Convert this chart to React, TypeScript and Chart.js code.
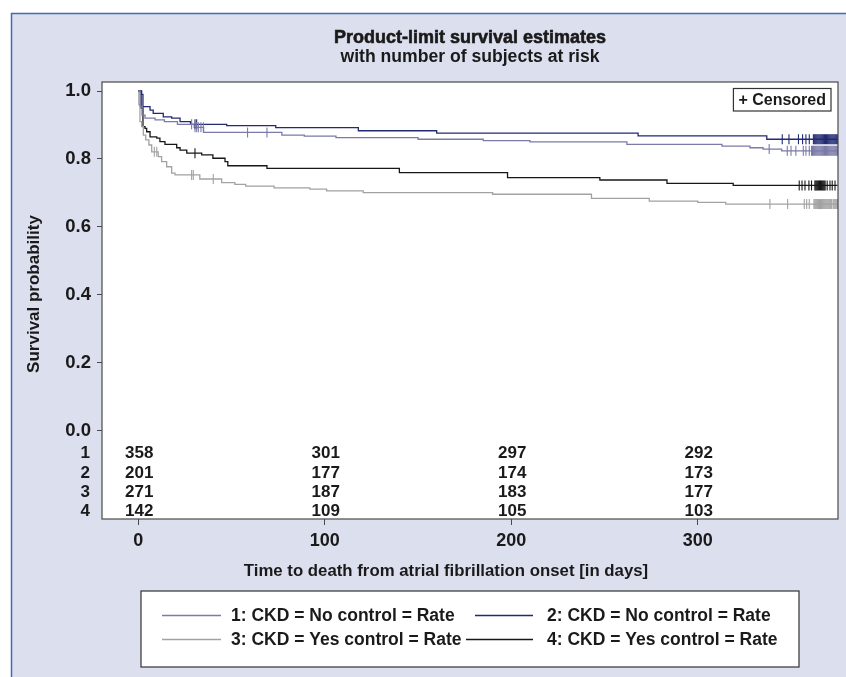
import React, { useEffect, useRef } from "react";
import { Chart, registerables } from "chart.js";

Chart.register(...registerables);

// ---------- data ----------
const TITLE = "Product-limit survival estimates";
const SUBTITLE = "with number of subjects at risk";
const X_TITLE = "Time to death from atrial fibrillation onset [in days]";
const Y_TITLE = "Survival probability";
const CENSOR_LABEL = "+ Censored";

const GROUP_IDS = ["1", "2", "3", "4"];
const GROUP_LABELS = [
  "1: CKD = No control = Rate",
  "2: CKD = No control = Rate",
  "3: CKD = Yes control = Rate",
  "4: CKD = Yes control = Rate",
];
const GROUP_COLORS = ["#7b7aa8", "#222a72", "#a2a2a2", "#171717"];

const G1_TIMES = [0, 1, 2, 3.6, 9, 14, 21, 30, 35, 77, 89, 106, 150, 185, 210, 262, 313, 328, 335, 345, 375];
const G1_SURV = [1, 0.955, 0.929, 0.92, 0.915, 0.91, 0.902, 0.893, 0.878, 0.87, 0.867, 0.863, 0.858, 0.854, 0.85, 0.843, 0.838, 0.833, 0.829, 0.824, 0.824];
const G1_CENSORED = [28.6, 30.4, 31.3, 32.2, 33.6, 34.9, 58.6, 69, 338.3, 348, 350, 352.6, 356.6, 358, 359.8, 361, 361.5, 362, 362.5, 363, 363.5, 364, 364.5, 365, 365.5, 366, 366.5, 367, 367.5, 368, 368.5, 369, 369.5, 370, 370.5, 371, 371.5, 372, 372.5, 373, 373.5, 374, 374.5, 375];

const G2_TIMES = [0, 1.8, 2.5, 6.3, 8, 13.4, 17.9, 22.4, 28, 47.4, 73.7, 118, 160, 268, 337, 375];
const G2_SURV = [1, 0.99, 0.954, 0.944, 0.934, 0.924, 0.92, 0.91, 0.902, 0.898, 0.892, 0.883, 0.876, 0.868, 0.858, 0.858];
const G2_CENSORED = [30.4, 31.3, 345.3, 348.9, 354, 356.2, 358, 359.8, 362, 362.5, 363, 363.5, 364, 364.5, 365, 365.5, 366, 366.5, 367, 367.5, 368, 368.5, 369, 369.5, 370, 370.5, 371, 371.5, 372, 372.5, 373, 373.5, 374, 374.5, 375];

const G3_TIMES = [0, 0.3, 0.9, 1.8, 2.7, 4, 5.7, 7.2, 10.7, 12.5, 15.2, 17.9, 19.7, 33, 44.7, 51.8, 57.6, 72.8, 92, 101, 120.6, 190, 243, 274, 300, 315, 375];
const G3_SURV = [1, 0.96, 0.91, 0.895, 0.87, 0.856, 0.841, 0.821, 0.807, 0.792, 0.777, 0.758, 0.753, 0.741, 0.73, 0.725, 0.72, 0.715, 0.711, 0.706, 0.701, 0.696, 0.684, 0.676, 0.672, 0.667, 0.667];
const G3_CENSORED = [8.6, 9.9, 28.6, 29.5, 40.2, 338.7, 348.2, 357.1, 358.4, 359.8, 362.3, 362.8, 363.3, 363.8, 364.3, 364.8, 365.3, 365.8, 366.3, 366.8, 367.3, 367.8, 368.3, 368.8, 369.3, 369.8, 370.3, 370.8, 371.3, 371.8, 372.6, 373.1, 373.6, 374.1, 374.6, 375];

const G4_TIMES = [0, 1.5, 2.5, 3.6, 4.5, 6.3, 9.9, 11.6, 14.3, 20.6, 22.4, 26, 34, 40, 46.5, 48, 69, 140, 198, 247.5, 283.5, 319, 375];
const G4_SURV = [1, 0.95, 0.895, 0.89, 0.88, 0.865, 0.861, 0.851, 0.843, 0.833, 0.826, 0.817, 0.812, 0.802, 0.792, 0.78, 0.772, 0.76, 0.745, 0.738, 0.728, 0.722, 0.722];
const G4_CENSORED = [30.4, 354.4, 355.9, 357.5, 359.6, 361, 362.8, 363.3, 363.8, 364.3, 364.8, 365.3, 365.8, 366.3, 366.8, 367.3, 367.8, 368.3, 369.4, 370.9, 372.1, 373.6];

const AT_RISK_TIMES = [0, 100, 200, 300];
const AT_RISK_G1 = [358, 301, 297, 292];
const AT_RISK_G2 = [201, 177, 174, 173];
const AT_RISK_G3 = [271, 187, 183, 177];
const AT_RISK_G4 = [142, 109, 105, 103];

const Y_TICKS = [0, 0.2, 0.4, 0.6, 0.8, 1.0];
const X_TICKS = [0, 100, 200, 300];

// ---------- style ----------
const WIDE_FONT = '"Liberation Sans", Arial, "DejaVu Sans", sans-serif';
const NARROW_FONT = '"Liberation Sans Narrow", "Arial Narrow", "Liberation Sans", sans-serif';
const BG = "#dcdfee";
const FRAME_BLUE = "#3f6cb4";
const INK = "#1a1a1a";
const AXIS = "#4a4a4a";
const W = 846;
const H = 677;

function fontInstalled(name: string): boolean {
  try {
    const c = document.createElement("canvas").getContext("2d");
    if (!c) return false;
    const probe = "abcdefghijklmnopqrstuvwxyz ABCDEFGHIJKLMNOPQRSTUVWXYZ 0123456789";
    c.font = "40px monospace";
    const a = c.measureText(probe).width;
    c.font = `40px "${name}", monospace`;
    const b = c.measureText(probe).width;
    return Math.abs(a - b) > 0.5;
  } catch (e) {
    return false;
  }
}

type TextStyle = { font: string; ls: number };

function makeStyles(narrow: boolean) {
  if (narrow) {
    return {
      tickFamily: NARROW_FONT,
      tickSize: 19,
      tickLS: 1.2,
      subtitle: { font: `bold 19px ${NARROW_FONT}`, ls: 1.1 },
      xTitle: { font: `bold 19px ${NARROW_FONT}`, ls: 0.5 },
      yTitle: { font: `bold 19px ${NARROW_FONT}`, ls: 0.5 },
      censor: { font: `bold 17px ${NARROW_FONT}`, ls: 1 },
      atRisk: { font: `bold 18.5px ${NARROW_FONT}`, ls: 1 },
      legend: { font: `bold 19px ${NARROW_FONT}`, ls: 1 },
    };
  }
  return {
    tickFamily: WIDE_FONT,
    tickSize: 18,
    tickLS: 0,
    subtitle: { font: `bold 17.6px ${WIDE_FONT}`, ls: 0 },
    xTitle: { font: `bold 16.8px ${WIDE_FONT}`, ls: 0 },
    yTitle: { font: `bold 17px ${WIDE_FONT}`, ls: 0 },
    censor: { font: `bold 16px ${WIDE_FONT}`, ls: 0 },
    atRisk: { font: `bold 17px ${WIDE_FONT}`, ls: 0 },
    legend: { font: `bold 17.5px ${WIDE_FONT}`, ls: 0 },
  };
}

const GROUPS = [
  { t: G1_TIMES, s: G1_SURV, c: G1_CENSORED, r: AT_RISK_G1 },
  { t: G2_TIMES, s: G2_SURV, c: G2_CENSORED, r: AT_RISK_G2 },
  { t: G3_TIMES, s: G3_SURV, c: G3_CENSORED, r: AT_RISK_G3 },
  { t: G4_TIMES, s: G4_SURV, c: G4_CENSORED, r: AT_RISK_G4 },
];

function survAt(times: number[], surv: number[], t: number): number {
  let v = surv[0];
  for (let i = 0; i < times.length; i++) if (times[i] <= t) v = surv[i];
  return v;
}

function setText(ctx: any, st: TextStyle) {
  ctx.font = st.font;
  ctx.letterSpacing = `${st.ls}px`;
}

function makeDecor(S: ReturnType<typeof makeStyles>) {
  return {
    id: "decor",
    beforeDraw(chart: any) {
      const { ctx, chartArea: a } = chart;
      ctx.save();
      ctx.fillStyle = "#ffffff";
      ctx.fillRect(0, 0, W, H);
      ctx.fillStyle = BG;
      ctx.fillRect(11, 13, W - 11, H - 13);
      ctx.strokeStyle = FRAME_BLUE;
      ctx.lineWidth = 1.5;
      ctx.beginPath();
      ctx.moveTo(11.5, H);
      ctx.lineTo(11.5, 13.5);
      ctx.lineTo(W, 13.5);
      ctx.stroke();
      ctx.fillStyle = "#ffffff";
      ctx.fillRect(a.left, a.top, a.right - a.left, a.bottom - a.top);
      ctx.restore();
      // letter spacing used by the axis tick labels
      ctx.letterSpacing = `${S.tickLS}px`;
    },
    afterDraw(chart: any) {
      const { ctx, chartArea: a, scales } = chart;
      const xs = scales.x;
      const ys = scales.y;
      const cx = (a.left + a.right) / 2;
      ctx.save();
      ctx.strokeStyle = AXIS;
      ctx.lineWidth = 1.2;
      ctx.strokeRect(a.left, a.top, a.right - a.left, a.bottom - a.top);

      ctx.fillStyle = INK;
      ctx.textAlign = "center";
      ctx.textBaseline = "middle";
      // titles
      ctx.font = `bold 18px ${WIDE_FONT}`;
      ctx.letterSpacing = "0px";
      ctx.strokeStyle = INK;
      ctx.lineWidth = 0.6;
      ctx.fillText(TITLE, cx, 38);
      ctx.strokeText(TITLE, cx, 38);
      setText(ctx, S.subtitle);
      ctx.fillText(SUBTITLE, cx, 57.5);

      // x title
      setText(ctx, S.xTitle);
      ctx.fillText(X_TITLE, cx - 24, 571);

      // y title
      ctx.save();
      ctx.translate(34, 294);
      ctx.rotate(-Math.PI / 2);
      setText(ctx, S.yTitle);
      ctx.fillText(Y_TITLE, 0, 0);
      ctx.restore();

      // censored box
      setText(ctx, S.censor);
      const cw = ctx.measureText(CENSOR_LABEL).width + 10;
      const bx = a.right - 7 - cw;
      const by = a.top + 6.5;
      ctx.fillStyle = "#ffffff";
      ctx.fillRect(bx, by, cw, 22.5);
      ctx.strokeStyle = "#333";
      ctx.lineWidth = 1.2;
      ctx.strokeRect(bx, by, cw, 22.5);
      ctx.fillStyle = INK;
      ctx.fillText(CENSOR_LABEL, bx + cw / 2, by + 12);

      // at-risk table
      const y0 = ys.getPixelForValue(0);
      setText(ctx, S.atRisk);
      GROUPS.forEach((g, i) => {
        const ry = y0 + 23 + i * 19.3;
        ctx.textAlign = "right";
        ctx.fillText(GROUP_IDS[i], a.left - 12, ry);
        ctx.textAlign = "center";
        AT_RISK_TIMES.forEach((t, j) => {
          ctx.fillText(String(g.r[j]), xs.getPixelForValue(t) + 1, ry);
        });
      });

      // legend box
      const lx = 141;
      const lw = 2 * (cx - lx);
      const ly = 591;
      const lh = 76;
      ctx.fillStyle = "#ffffff";
      ctx.fillRect(lx, ly, lw, lh);
      ctx.strokeStyle = "#333";
      ctx.lineWidth = 1.2;
      ctx.strokeRect(lx, ly, lw, lh);
      setText(ctx, S.legend);
      ctx.textAlign = "left";
      const rowsY = [ly + 24.5, ly + 48.5];
      const lineSeg = [
        [lx + 21, lx + 80],
        [lx + 334, lx + 392],
        [lx + 21, lx + 80],
        [lx + 325, lx + 392],
      ];
      const textX = [lx + 90, lx + 406, lx + 90, lx + 406];
      GROUP_LABELS.forEach((lab, i) => {
        const row = i < 2 ? 0 : 1;
        const yy = rowsY[row];
        ctx.strokeStyle = GROUP_COLORS[i];
        ctx.lineWidth = 1.3;
        ctx.beginPath();
        ctx.moveTo(lineSeg[i][0], yy);
        ctx.lineTo(lineSeg[i][1], yy);
        ctx.stroke();
        ctx.fillStyle = INK;
        ctx.fillText(lab, textX[i], yy + 1);
      });
      ctx.restore();
    },
  };
}

export default function App() {
  const ref = useRef<HTMLCanvasElement>(null);
  useEffect(() => {
    const canvas = ref.current;
    if (!canvas) return;
    const S = makeStyles(fontInstalled("Liberation Sans Narrow"));
    const lineSets: any[] = GROUPS.map((g, i) => ({
      type: "line",
      label: GROUP_LABELS[i],
      data: g.t.map((t, k) => ({ x: t, y: g.s[k] })),
      borderColor: GROUP_COLORS[i],
      borderWidth: 1.3,
      stepped: "before",
      pointRadius: 0,
      fill: false,
      order: 2,
    }));
    const censorSets: any[] = GROUPS.map((g, i) => ({
      type: "line",
      label: GROUP_LABELS[i] + " censored",
      data: g.c.map((t) => ({ x: t, y: survAt(g.t, g.s, t) })),
      showLine: false,
      pointStyle: "line",
      pointRotation: 90,
      pointRadius: 5,
      pointBorderWidth: 1.1,
      pointBorderColor: GROUP_COLORS[i],
      pointBackgroundColor: GROUP_COLORS[i],
      order: 1,
    }));
    const chart = new Chart(canvas, {
      type: "line",
      data: { datasets: [...lineSets, ...censorSets] },
      options: {
        animation: false,
        responsive: false,
        events: [],
        layout: { padding: { top: 82, right: 8, bottom: 118, left: 0 } },
        plugins: {
          legend: { display: false },
          tooltip: { enabled: false },
          title: { display: false },
        },
        scales: {
          x: {
            type: "linear",
            min: -19.46,
            max: 375.2,
            afterBuildTicks: (s: any) => {
              s.ticks = X_TICKS.map((v) => ({ value: v }));
            },
            afterFit: (s: any) => {
              s.height = 40;
            },
            grid: { drawOnChartArea: false, drawTicks: true, tickLength: 6, color: AXIS, tickColor: AXIS },
            border: { display: false },
            ticks: {
              color: INK,
              font: { family: S.tickFamily, size: S.tickSize, weight: "bold" },
              padding: 5,
              maxRotation: 0,
              callback: (v: any) => String(v),
            },
          },
          y: {
            type: "linear",
            min: -0.2599,
            max: 1.0265,
            afterBuildTicks: (s: any) => {
              s.ticks = Y_TICKS.map((v) => ({ value: v }));
            },
            afterFit: (s: any) => {
              s.width = 102;
            },
            grid: { drawOnChartArea: false, drawTicks: true, tickLength: 5, color: AXIS, tickColor: AXIS },
            border: { display: false },
            ticks: {
              color: INK,
              font: { family: S.tickFamily, size: S.tickSize + 0.5, weight: "bold" },
              padding: 6,
              callback: (v: any) => Number(v).toFixed(1),
            },
          },
        },
      },
      plugins: [makeDecor(S)],
    } as any);
    return () => chart.destroy();
  }, []);
  return (
    <div style={{ position: "absolute", left: 0, top: 0, width: W, height: H, background: "#fff" }}>
      <canvas ref={ref} width={W} height={H} style={{ display: "block", width: W, height: H }} />
    </div>
  );
}
